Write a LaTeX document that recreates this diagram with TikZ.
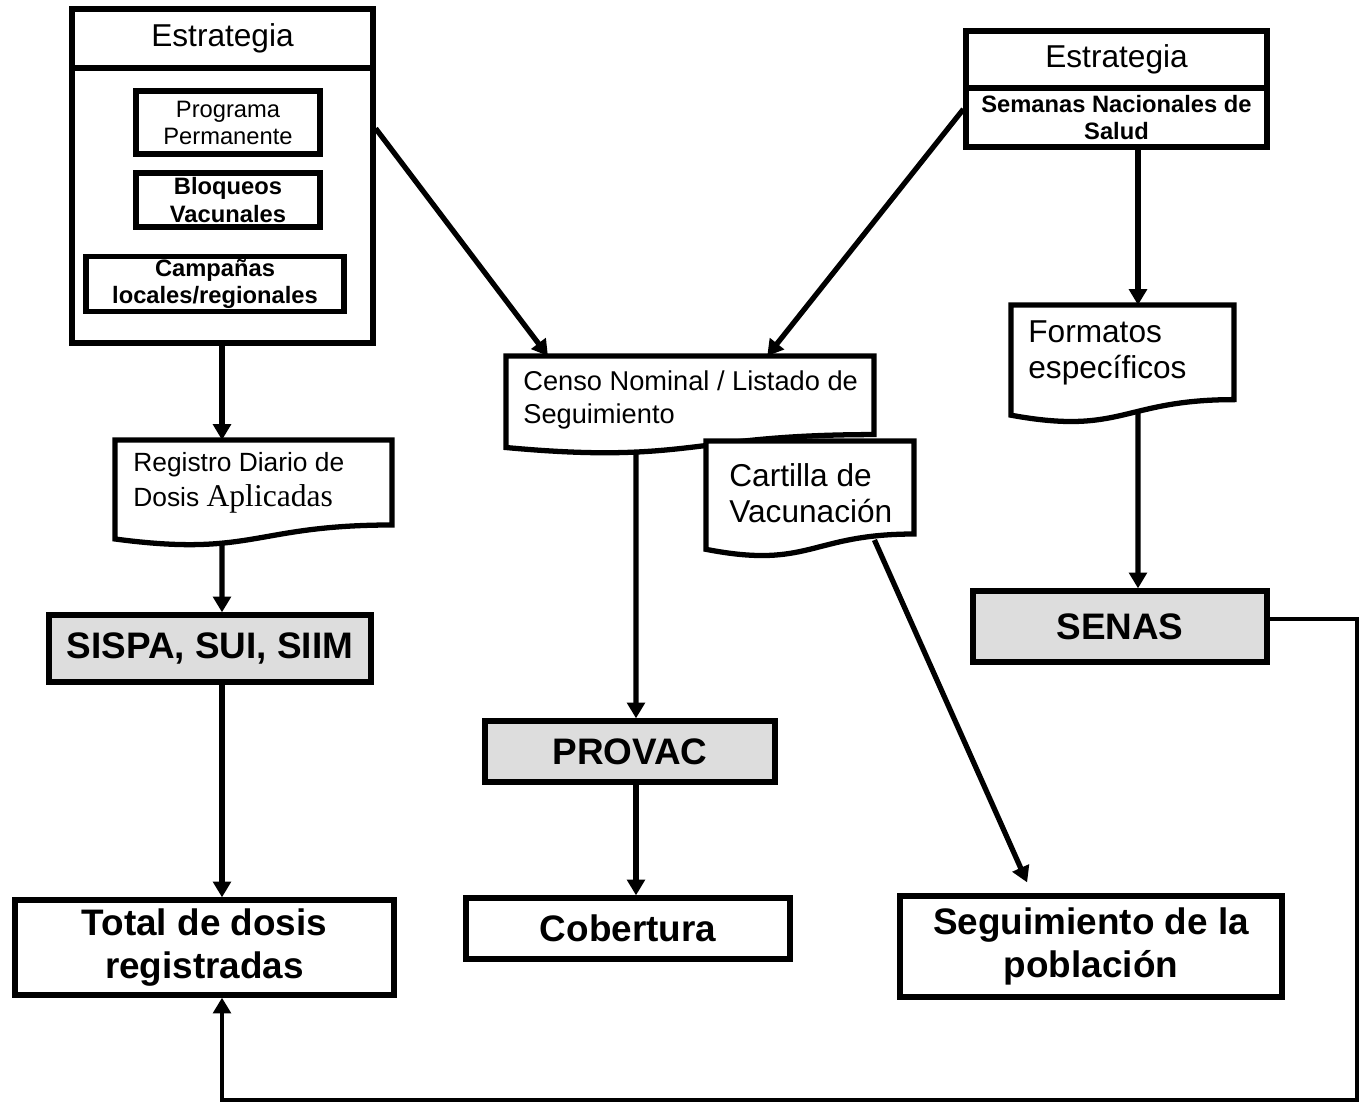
\documentclass[tikz,border=0pt]{standalone}
\usepackage{fontspec}
\setmainfont{Liberation Sans}
\newfontfamily\serifA{Liberation Serif}
\usepackage{xcolor}
\usetikzlibrary{calc, positioning, arrows.meta}

\definecolor{grisbox}{HTML}{DDDDDD}

% Tamaños de letra usados en el diagrama
\newcommand{\fTitulo}{\fontsize{18}{20.6}\selectfont}
\newcommand{\fChica}{\fontsize{13.5}{15.4}\selectfont}
\newcommand{\fDoc}{\fontsize{18}{20.5}\selectfont}
\newcommand{\fCenso}{\fontsize{15.5}{18.8}\selectfont}
\newcommand{\fRegistro}{\fontsize{15}{20}\selectfont}
\newcommand{\fGrande}{\bfseries\fontsize{21}{24.5}\selectfont}

% Contorno de "documento" (borde inferior ondulado) alrededor de un nodo
\newcommand{\hoja}[1]{%
  \draw[borde, fill=white] (#1.north west) -- (#1.north east)
    -- ($(#1.north east)!0.802!(#1.south east)$)
    .. controls ($(#1.north)!0.802!(#1.south)$) and ($(#1.north)!1.108!(#1.south)$)
    .. ($(#1.north west)!0.934!(#1.south west)$) -- cycle;}

\begin{document}
\begin{tikzpicture}[x=0.02cm, y=-0.02cm, >={Triangle[length=9pt, width=10pt]},
    borde/.style={line width=3pt},
    caja/.style={draw, borde, fill=white, inner sep=0pt, align=center},
    sistema/.style={caja, fill=grisbox, font=\fGrande},
    resultado/.style={caja, font=\fGrande},
    hojanodo/.style={anchor=north west, inner sep=0pt, outer sep=0pt},
    texto/.style={anchor=north west, align=left, inner sep=0pt},
    flecha/.style={line width=3pt, ->},
    retorno/.style={line width=2.4pt, ->}]

    \useasboundingbox (0,0) rectangle (1363,1105);

    % =================================================================
    % 1. COLUMNAS DE LAS FLECHAS VERTICALES
    % =================================================================
    \coordinate (colA) at (222,0);
    \coordinate (colM) at (636,0);
    \coordinate (colB) at (1138,0);
    \coordinate (esquina) at (1357,1100);

    % =================================================================
    % 2. ESTRATEGIA IZQUIERDA (PROGRAMA, BLOQUEOS, CAMPAÑAS)
    % =================================================================
    \node[caja, minimum width=6.02cm, minimum height=5.5cm] (cuerpoA) at (222.5,205.5) {};
    \node[caja, minimum width=6.02cm, minimum height=1.18cm, font=\fTitulo] (estrA) at (222.5,38.5) {Estrategia};
    \node[caja, minimum width=3.68cm, minimum height=1.26cm, font=\fChica] (prog) at (228,122.5) {Programa\\Permanente};
    \node[caja, minimum width=3.68cm, minimum height=1.08cm, font=\fChica\bfseries] (bloq) at (228,200) {Bloqueos\\Vacunales};
    \node[caja, minimum width=5.16cm, minimum height=1.1cm, font=\fChica\bfseries] (camp) at (215,284) {Campañas\\locales/regionales};

    % =================================================================
    % 3. ESTRATEGIA DERECHA (SEMANAS NACIONALES DE SALUD)
    % =================================================================
    \node[caja, minimum width=6.02cm, minimum height=1.14cm, font=\fTitulo] (estrB) at (1116.5,59.5) {Estrategia};
    \node[caja, minimum width=6.02cm, minimum height=1.18cm, font=\fChica\bfseries] (cuerpoB) at (1116.5,117.5) {Semanas Nacionales de\\Salud};

    % =================================================================
    % 4. DOCUMENTOS (FORMATOS Y REGISTROS)
    % =================================================================
    \node[hojanodo, minimum width=4.46cm, minimum height=2.36cm] (formatos) at (1011,305) {};
    \hoja{formatos}
    \node[texto, font=\fDoc] (formatosT) at (1028,320) {Formatos\\específicos};

    \node[hojanodo, minimum width=7.36cm, minimum height=1.96cm] (censo) at (506,356) {};
    \hoja{censo}
    \node[texto, font=\fCenso] (censoT) at (523,370) {Censo Nominal / Listado de\\Seguimiento};

    \node[hojanodo, minimum width=4.16cm, minimum height=2.32cm] (cartilla) at (706,441) {};
    \hoja{cartilla}
    \node[texto, font=\fDoc] (cartillaT) at (729,463) {Cartilla de\\Vacunación};

    \node[hojanodo, minimum width=5.54cm, minimum height=2.12cm] (registro) at (115,440) {};
    \hoja{registro}
    \node[texto, font=\fRegistro] (registroT) at (133,452) {Registro Diario de\\Dosis {\serifA\fontsize{18}{20}\selectfont Aplicadas}};

    % =================================================================
    % 5. SISTEMAS Y RESULTADOS
    % =================================================================
    \node[sistema, minimum width=6.44cm, minimum height=1.34cm] (sispa) at (210,648.5) {SISPA, SUI, SIIM};
    \node[sistema, minimum width=5.8cm, minimum height=1.22cm] (provac) at (630,751.5) {PROVAC};
    \node[sistema, minimum width=5.88cm, minimum height=1.42cm] (senas) at (1120,626.5) {SENAS};

    \node[resultado, minimum width=7.58cm, minimum height=1.9cm] (total) at (204.5,947.5) {Total de dosis\\registradas};
    \node[resultado, minimum width=6.48cm, minimum height=1.22cm] (cobertura) at (628,928.5) {Cobertura};
    \node[resultado, minimum width=7.64cm, minimum height=2.02cm] (seguim) at (1091,946.5) {Seguimiento de la\\población};

    % =================================================================
    % 6. FLECHAS
    % =================================================================
    % Columna izquierda
    \draw[flecha] (cuerpoA.south -| colA) -- (registro.north -| colA);
    \draw[flecha] ($(registro.north -| colA)!0.97!(registro.south -| colA)$) -- (sispa.north -| colA);
    \draw[flecha] (sispa.south -| colA) -- (total.north -| colA);

    % Columna central
    \draw[flecha] ($(censo.north -| colM)!0.97!(censo.south -| colM)$) -- (provac.north -| colM);
    \draw[flecha] (provac.south -| colM) -- (cobertura.north -| colM);

    % Columna derecha
    \draw[flecha] (cuerpoB.south -| colB) -- (formatos.north -| colB);
    \draw[flecha] ($(formatos.north -| colB)!0.9!(formatos.south -| colB)$) -- (senas.north -| colB);

    % Flechas diagonales hacia el censo y hacia el seguimiento
    \draw[flecha] ($(cuerpoA.north east)!0.225!(cuerpoA.south east)$) -- ($(censo.north west)!0.114!(censo.north east)$);
    \draw[flecha] ($(cuerpoB.north west)!0.37!(cuerpoB.south west)$) -- ($(censo.north west)!0.71!(censo.north east)$);
    \draw[flecha] ($(cartilla.south west)!0.81!(cartilla.south east) + (0,-17)$) -- ($(seguim.north west)!0.335!(seguim.north east) + (0,-11)$);

    % Retorno de SENAS al total de dosis
    \draw[retorno] ($(senas.north east)!0.4!(senas.south east)$) -| (esquina) -| (total.south -| colA);

\end{tikzpicture}
\end{document}
